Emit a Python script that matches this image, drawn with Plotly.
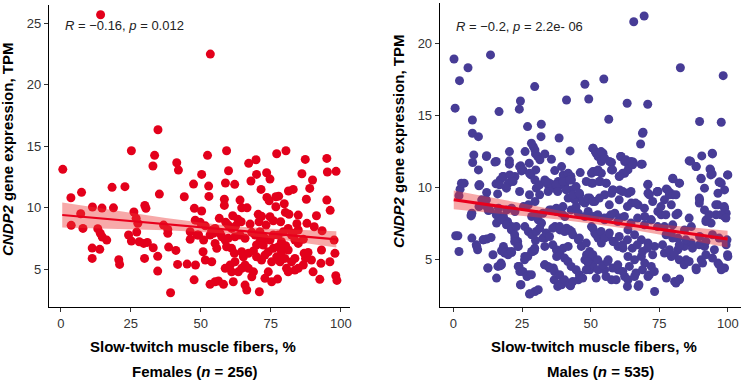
import plotly.graph_objects as go

# ---------------- data ----------------
fem_x = [14.2, 53.4, 34.7, 25.2, 33.5, 32.9, 41.4, 42.0, 0.7, 47.4, 18.3, 22.9, 7.4, 3.6, 35.2, 44.1, 30.0, 30.4,
         11.3, 14.7, 18.8, 47.7, 7.1, 26.1, 26.9, 27.5, 48.0, 3.7, 7.9, 13.2, 36.7, 38.2, 38.2, 14.1, 14.8, 16.4,
         24.2, 27.1, 25.2, 28.0, 30.9, 29.6, 46.2, 46.2, 48.7, 33.0, 38.5, 41.1, 11.2, 13.9, 11.2, 20.7, 21.0, 29.9,
         34.6, 34.6, 41.7, 45.1, 48.1, 47.6, 39.2, 50.3, 52.4, 52.8, 52.9, 58.4, 58.8, 59.2, 59.9, 62.1, 64.0, 67.1,
         67.9, 69.7, 69.9, 71.5, 73.5, 73.6, 74.7, 76.8, 77.8, 77.1, 80.4, 81.3, 83.0, 86.1, 87.3, 87.7, 88.9, 89.9,
         95.0, 95.2, 98.3, 95.0, 58.4, 74.4, 76.8, 79.8, 96.2, 50.3, 56.6, 64.6, 66.5, 61.4, 63.2, 70.5, 71.7, 74.7,
         80.2, 81.5, 84.8, 84.3, 87.9, 91.3, 90.5, 93.3, 49.8, 51.6, 53.9, 58.9, 59.8, 61.0, 62.4, 64.4, 67.6, 68.2,
         70.8, 73.3, 75.9, 78.5, 83.0, 86.6, 97.6, 97.9, 96.1, 98.2, 98.6, 92.5, 92.9, 89.5, 87.4, 86.6, 84.8, 83.6,
         90.1, 86.9, 88.3, 93.1, 50.8, 51.6, 53.9, 55.1, 55.7, 58.7, 59.8, 59.2, 61.0, 62.0, 64.6, 65.2, 67.0, 68.8,
         69.9, 71.1, 72.3, 69.9, 71.7, 72.9, 74.1, 75.9, 77.7, 78.8, 80.3, 77.1, 78.3, 80.0, 80.6, 81.2, 75.3, 74.1,
         72.9, 75.3, 77.4, 70.9, 65.8, 66.4, 68.2, 53.3, 55.1, 56.3, 58.1, 61.6, 58.7, 60.5, 62.2, 63.4, 64.6, 65.8,
         61.0, 67.0, 68.8, 49.2, 51.0, 53.3, 55.1, 54.5, 56.9, 57.5, 64.0, 65.8, 72.9, 74.7, 75.9, 77.7, 79.5, 81.2,
         82.4, 84.8, 71.1, 69.4, 71.7, 62.2, 82.4, 83.6, 78.8, 81.2, 84.8, 83.6]
fem_y = [25.7, 22.5, 16.35, 14.64, 14.27, 13.4, 13.67, 13.07, 13.13, 11.93, 11.67, 11.72, 11.26, 10.82, 11.12, 10.9,
         10.2, 9.96, 10.07, 9.98, 10.0, 9.96, 9.52, 9.66, 9.15, 8.74, 9.0, 8.58, 8.33, 8.3, 8.6, 8.25, 7.93, 7.93,
         7.63, 7.38, 7.79, 8.03, 7.3, 7.24, 7.19, 7.11, 8.06, 7.44, 7.79, 6.76, 6.81, 6.54, 6.73, 6.63, 5.89, 5.78,
         5.4, 5.89, 6.06, 4.86, 5.4, 5.43, 5.35, 4.15, 3.1, 12.72, 14.27, 11.77, 10.93, 10.7, 12.02, 14.64, 13.02,
         11.91, 10.63, 13.62, 12.18, 13.91, 12.72, 11.5, 12.85, 10.85, 12.34, 10.9, 10.95, 14.4, 14.64, 11.37, 11.5,
         12.77, 13.94, 10.7, 11.58, 12.26, 14.02, 12.91, 12.97, 10.63, 10.2, 10.58, 10.09, 10.33, 9.8, 9.74, 9.15,
         10.0, 10.0, 9.36, 9.07, 9.47, 9.31, 9.28, 9.63, 9.47, 9.41, 8.71, 8.74, 9.36, 8.46, 8.14, 8.82, 8.54, 8.17,
         8.82, 8.6, 8.33, 8.52, 8.87, 8.68, 8.01, 8.87, 8.6, 8.95, 8.87, 7.93, 7.44, 7.38, 6.3, 5.62, 4.48, 4.1, 4.19,
         5.49, 5.76, 5.89, 5.35, 5.08, 4.94, 4.8, 6.3, 6.38, 6.57, 6.43, 5.76, 5.62, 7.11, 6.71, 7.38, 7.52, 6.84,
         6.71, 6.3, 6.43, 6.02, 6.3, 6.49, 6.98, 7.24, 6.98, 6.02, 5.76, 6.16, 6.43, 6.71, 6.84, 7.24, 6.92, 6.02,
         5.62, 5.89, 5.08, 4.8, 5.62, 4.8, 4.27, 3.99, 4.21, 3.18, 3.72, 3.32, 4.4, 3.78, 3.99, 4.05, 3.78, 3.99,
         5.08, 5.35, 5.62, 4.8, 5.08, 5.35, 4.8, 5.08, 4.8, 7.79, 7.38, 7.79, 8.33, 7.93, 7.93, 7.65, 7.79, 7.52,
         7.52, 7.38, 7.79, 7.79, 8.06, 8.33, 7.79, 8.2, 8.06, 7.79, 7.65, 7.65, 5.62, 5.89, 6.43, 6.57, 7.11, 7.38]

male_x = [0.2, 0.6, 2.2, 5.3, 13.5, 6.9, 6.9, 9.1, 7.4, 7.0, 9.1, 12.1, 15.1, 16.6, 9.3, 12.1, 3.9, 2.4, 15.5, 17.0,
          18.2, 20.4, 20.4, 20.4, 22.4, 20.0, 24.0, 24.4, 24.5, 24.8, 26.1, 27.0, 27.6, 28.2, 29.1, 29.7, 29.9, 30.7,
          29.6, 32.0, 31.9, 31.5, 33.3, 30.0, 35.7, 36.9, 29.7, 33.3, 34.5, 36.4, 38.2, 38.5, 39.4, 40.0, 41.8, 42.8,
          43.0, 42.5, 41.2, 46.2, 47.9, 49.3, 50.9, 51.7, 52.7, 53.9, 50.3, 51.5, 52.7, 53.9, 50.3, 53.3, 54.8, 56.6,
          54.5, 55.1, 57.6, 57.6, 55.7, 58.2, 60.9, 62.4, 63.9, 64.8, 60.6, 62.4, 63.6, 63.3, 65.7, 69.5, 69.1, 70.8,
          68.2, 68.8, 65.5, 70.9, 74.2, 77.6, 78.8, 80.0, 80.0, 82.4, 82.7, 86.4, 88.5, 90.5, 90.3, 89.7, 93.7, 94.3,
          94.3, 97.1, 97.6, 98.3, 100.0,
          2.0, 1.6, 2.0, 6.7, 6.4, 6.7, 8.5, 8.8, 9.3, 9.3, 10.9, 12.1, 12.5, 10.3, 12.1, 12.7, 15.7, 15.7, 16.1, 16.4,
          16.1, 17.0, 17.3, 18.2, 19.7, 21.2, 18.2, 19.7, 21.2, 19.4, 21.2, 22.4, 22.4, 23.4, 23.6, 23.6, 24.2, 24.6,
          26.0, 27.3, 27.9, 29.7, 30.9, 26.0, 27.3, 28.5, 25.5, 27.3, 29.7, 28.5, 29.5, 29.9, 28.5, 30.9, 32.1, 33.3,
          33.3, 33.3, 34.5, 36.4, 36.7, 38.0, 39.4, 37.6, 38.8, 40.0, 41.8, 42.7, 45.5, 35.7, 37.6, 39.4, 40.6, 37.0,
          38.8, 41.2, 43.0, 34.5, 36.4, 38.2, 40.6, 43.0, 41.8, 44.2, 46.0, 47.9, 49.7, 51.5, 45.5, 47.9, 49.1, 50.9,
          45.5, 46.6, 48.5, 49.1, 49.7, 50.3, 51.5, 52.7, 53.9, 47.9, 50.3, 50.9, 52.7, 55.1, 56.4, 57.6, 56.4, 58.2,
          60.0, 61.8, 55.1, 57.0, 58.8, 60.6, 55.1, 57.6, 60.6, 63.6, 64.8, 67.3, 60.0, 62.4, 63.6, 66.0, 67.3, 70.9,
          73.3, 63.6, 66.0, 68.5, 69.7, 72.1, 63.6, 66.0, 68.5, 70.9, 73.3, 69.7, 72.1, 74.5, 75.7, 70.9, 74.5, 76.9,
          79.4, 81.8, 76.9, 79.4, 81.8, 84.2, 86.7, 76.9, 79.4, 81.8, 84.2, 86.7, 77.6, 80.6, 82.4, 84.8, 88.5, 90.3,
          91.5, 89.7, 92.1, 91.5, 89.7, 93.9, 95.7, 96.4, 98.8, 95.1, 96.4, 97.6, 98.8, 100.0, 99.4, 99.7, 98.8, 99.4,
          96.4, 98.8, 91.5, 97.6,
          0.8, 6.5, 8.3, 10.8, 13.7, 12.6, 16.2, 17.5, 14.4, 17.5, 18.7, 19.9, 21.1, 12.0, 13.2, 15.6, 17.5, 19.3,
          21.1, 22.9, 22.3, 22.3, 23.5, 23.9, 25.3, 26.8, 28.4, 24.4, 27.7, 25.9, 27.1, 28.9, 29.6, 28.9, 30.2, 31.4,
          32.6, 33.8, 35.0, 33.2, 35.0, 36.8, 38.7, 39.3, 40.5, 42.3, 43.5, 36.2, 37.5, 38.7, 40.5, 41.7, 42.9, 44.7,
          45.9, 47.1, 48.4, 48.9, 36.2, 38.7, 40.5, 42.3, 43.5, 45.9, 48.4, 49.6, 30.2, 32.6, 35.0, 37.5, 39.9, 42.9,
          44.7, 47.1, 48.9,
          50.8, 52.0, 53.8, 55.0, 56.8, 58.6, 60.4, 61.6, 63.4, 65.2, 67.0, 68.9, 70.7, 72.6, 50.8, 52.6, 54.4, 56.2,
          58.0, 59.9, 61.7, 64.1, 66.5, 68.9, 71.4, 73.2, 52.0, 55.6, 59.3, 63.4, 67.6, 81.1, 82.3, 52.6, 55.0, 57.4,
          59.9, 62.3, 64.7, 67.1, 69.6, 72.0, 74.4, 50.8, 53.2, 56.8, 60.4, 63.4, 66.4, 69.6, 72.6, 75.6, 77.4, 79.9,
          76.2, 78.7, 80.5, 82.3, 84.1, 85.9, 88.4, 90.8, 92.0, 94.4, 96.8, 98.0, 77.5, 79.9, 82.3, 84.7, 87.1, 89.6,
          92.0, 94.4, 96.8, 99.3, 99.9, 81.1, 85.9, 89.6, 92.0, 93.2, 95.6, 97.5, 99.3, 98.7,
          35.0, 37.4, 39.9, 42.3, 44.7, 48.4, 38.0, 41.1, 43.5, 45.9, 28.4, 18.0, 20.5, 21.7, 24.1, 25.3, 27.7, 30.2,
          31.4, 33.8, 12.0, 15.6, 16.8, 19.3, 24.1, 27.7, 31.4, 2.9, 9.6,
          50.8, 52.0, 53.8, 56.9, 58.0, 61.1, 62.9, 64.7, 65.3, 61.7, 60.4, 50.8, 52.6, 50.8, 53.2, 55.6, 58.0, 61.7,
          64.7, 68.4, 70.8, 74.4, 71.4, 78.0, 79.9, 82.3, 78.7, 81.1, 68.9, 85.9, 88.4, 93.5, 94.4, 93.8, 96.8, 99.9,
          90.2, 89.6]
male_y = [18.91, 15.49, 17.4, 18.3, 19.19, 14.67, 13.75, 13.51, 12.24, 11.71, 11.2, 12.19, 11.74, 15.25, 10.16, 9.63,
          10.28, 9.86, 10.23, 10.5, 10.74, 12.47, 11.83, 11.6, 10.74, 10.28, 15.42, 15.99, 11.48, 11.13, 12.47, 14.21,
          11.67, 10.85, 12.82, 12.59, 12.31, 12.13, 16.99, 14.37, 13.51, 11.9, 12.31, 11.2, 11.94, 11.15, 10.5, 10.5,
          10.16, 10.16, 10.39, 13.42, 11.43, 10.85, 10.97, 10.74, 10.5, 12.52, 16.06, 11.01, 17.15, 16.13, 12.71,
          12.47, 12.13, 11.78, 10.97, 11.08, 11.2, 10.97, 10.28, 10.39, 17.52, 14.72, 12.36, 12.01, 11.71, 11.2,
          10.28, 9.81, 12.13, 11.78, 11.48, 11.67, 10.78, 10.97, 11.2, 15.83, 21.5, 21.9, 13.82, 15.76, 13.0, 11.6,
          11.74, 10.21, 9.67, 9.88, 9.63, 9.47, 10.58, 10.28, 18.3, 11.8, 11.43, 12.17, 10.58, 14.56, 11.2, 10.92,
          12.36, 10.35, 14.51, 17.75, 10.85,
          9.4, 6.62, 5.53, 8.19, 8.0, 6.46, 5.88, 5.65, 8.65, 10.09, 6.34, 6.39, 4.38, 9.12, 8.65, 8.38, 3.68, 7.5,
          8.19, 8.54, 9.53, 4.53, 4.72, 5.88, 5.53, 5.46, 7.96, 7.61, 7.26, 8.42, 8.54, 8.31, 6.46, 6.22, 5.88, 4.49,
          4.14, 3.22, 5.18, 3.91, 2.59, 2.75, 2.87, 7.26, 6.92, 6.69, 8.65, 8.77, 9.0, 5.53, 5.6, 6.29, 7.96, 7.73,
          7.5, 6.46, 5.88, 4.6, 4.49, 4.38, 3.56, 3.1, 3.22, 5.18, 5.42, 5.76, 5.88, 3.15, 3.56, 8.42, 8.31, 8.19,
          7.96, 7.26, 7.03, 7.15, 6.92, 9.7, 9.93, 10.04, 10.16, 9.81, 9.24, 9.12, 9.47, 8.89, 9.24, 9.0, 8.19, 7.96,
          8.31, 7.96, 6.34, 5.88, 5.3, 4.72, 4.26, 7.26, 6.81, 6.46, 6.11, 4.95, 5.07, 4.6, 4.26, 4.26, 4.95, 3.56,
          6.57, 6.22, 5.88, 5.76, 7.73, 7.96, 8.19, 7.85, 9.47, 9.58, 9.81, 9.58, 8.89, 8.77, 4.26, 3.79, 3.56, 3.79,
          3.1, 3.79, 2.75, 5.18, 4.95, 5.18, 4.72, 4.49, 7.03, 6.69, 6.34, 6.11, 5.88, 7.96, 7.73, 8.31, 8.08, 9.58,
          9.7, 9.12, 8.77, 8.19, 7.26, 6.81, 6.46, 7.03, 7.26, 5.42, 5.18, 5.65, 5.88, 6.11, 3.68, 3.44, 3.61, 4.95,
          4.26, 4.95, 5.88, 6.57, 7.73, 8.42, 9.12, 7.5, 8.08, 8.77, 8.54, 5.65, 4.72, 4.26, 4.38, 5.18, 5.99, 6.34,
          7.96, 8.19, 9.58, 9.81, 9.93, 10.28,
          6.62, 8.08, 5.99, 6.34, 6.5, 4.38, 4.49, 4.6, 5.3, 5.58, 5.42, 5.3, 5.53, 9.12, 8.42, 8.08, 7.73, 7.38,
          7.03, 7.26, 6.69, 6.22, 5.88, 4.49, 4.14, 3.79, 3.91, 3.22, 2.57, 4.95, 5.18, 5.53, 5.76, 6.69, 6.92, 7.15,
          6.46, 6.81, 6.57, 4.6, 4.38, 4.14, 3.91, 3.33, 3.56, 3.22, 3.44, 5.99, 5.65, 5.3, 5.07, 4.83, 4.49, 4.26,
          3.91, 3.68, 4.26, 4.83, 7.15, 7.26, 6.92, 7.03, 6.69, 6.46, 6.11, 5.53, 8.08, 8.19, 8.42, 8.54, 8.65, 8.42,
          8.65, 9.0, 9.24,
          7.15, 6.69, 6.92, 6.46, 6.81, 6.22, 6.57, 5.99, 6.34, 5.76, 5.99, 5.53, 5.76, 5.3, 5.3, 4.95, 4.6, 4.83,
          4.38, 4.6, 4.14, 4.49, 4.03, 4.26, 3.91, 4.14, 3.68, 3.79, 3.56, 3.1, 3.22, 3.33, 3.56, 8.08, 7.85, 8.08,
          7.61, 7.96, 7.5, 7.85, 7.38, 7.73, 7.26, 9.0, 9.24, 8.77, 9.12, 8.65, 8.89, 8.54, 9.0, 8.65, 8.08, 7.38,
          5.99, 5.65, 5.3, 4.95, 4.6, 4.83, 4.38, 4.72, 5.3, 5.07, 4.6, 4.38, 6.69, 6.46, 5.99, 6.34, 5.76, 5.99,
          6.22, 6.69, 6.46, 6.22, 5.3, 8.08, 7.85, 8.89, 7.61, 8.08, 8.77, 8.08, 7.85, 8.65,
          10.28, 10.16, 10.39, 10.5, 10.04, 10.39, 9.7, 9.81, 9.47, 9.58, 13.06, 10.74, 10.85, 10.39, 11.43, 11.2,
          10.97, 9.93, 10.16, 10.39, 12.13, 11.78, 10.16, 9.93, 9.7, 9.47, 9.47, 10.28, 10.16,
          12.71, 12.36, 12.47, 11.78, 11.2, 12.13, 11.9, 11.78, 11.55, 10.97, 10.74, 11.08, 11.08, 10.28, 10.39,
          10.28, 9.81, 9.7, 9.7, 11.6, 10.16, 9.7, 9.47, 9.81, 10.62, 10.28, 9.47, 9.47, 13.75, 11.83, 11.43, 11.27,
          12.31, 10.85, 10.35, 10.85, 10.62, 9.24]

# regression line and its 95% confidence band
fem_fit_x = [0.5, 12.5, 25, 37.5, 50, 62, 75, 87.5, 98.4]
fem_fit_y = [9.42, 9.18, 8.93, 8.67, 8.42, 8.18, 7.91, 7.66, 7.44]
fem_ci_hi = [10.44, 10.02, 9.59, 9.18, 8.80, 8.51, 8.30, 8.18, 8.10]
fem_ci_lo = [8.40, 8.33, 8.26, 8.17, 8.04, 7.85, 7.53, 7.14, 6.78]

male_fit_x = [0.1, 12.5, 25, 37.5, 50, 62.5, 75, 87.5, 99.9]
male_fit_y = [9.12, 8.78, 8.44, 8.10, 7.76, 7.41, 7.07, 6.73, 6.39]
male_ci_hi = [9.77, 9.31, 8.85, 8.42, 8.03, 7.70, 7.43, 7.19, 6.97]
male_ci_lo = [8.47, 8.25, 8.02, 7.77, 7.48, 7.13, 6.71, 6.27, 5.81]

x_ticks = [0, 25, 50, 75, 100]
fem_y_ticks = [5, 10, 15, 20, 25]
male_y_ticks = [5, 10, 15, 20]

fem_stat = "<i>R</i> = \u22120.16, <i>p</i> = 0.012"
male_stat = "<i>R</i> = \u22120.2, <i>p</i> = 2.2e- 06"
x_title = "Slow-twitch muscle fibers, %"
y_title = "<i>CNDP2</i> gene expression, TPM"
fem_label = "Females (<i>n</i> = 256)"
male_label = "Males (<i>n</i> = 535)"

# ---------------- styling ----------------
W, H = 746, 382
FONT = "Liberation Sans, Arial, Helvetica, sans-serif"
RED = "#e3001b"
BLUE = "#473c96"
LINE_RED = "#e8001c"
BAND = "rgba(235,50,50,0.42)"

fig = go.Figure()

panels = [
    (fem_x, fem_y, RED, "x", "y", 2.2, fem_fit_x, fem_fit_y, fem_ci_lo, fem_ci_hi),
    (male_x, male_y, BLUE, "x2", "y2", 3.0, male_fit_x, male_fit_y, male_ci_lo, male_ci_hi),
]
for xv, yv, col, xa, ya, lw, fx, fy, lo, hi in panels:
    fig.add_trace(go.Scatter(x=xv, y=yv, mode="markers", xaxis=xa, yaxis=ya,
                             marker=dict(size=9, color=col, line=dict(width=0)),
                             showlegend=False, hoverinfo="skip"))
    fig.add_trace(go.Scatter(x=list(fx) + list(fx[::-1]), y=list(hi) + list(lo[::-1]),
                             fill="toself", fillcolor=BAND, line=dict(width=0), mode="lines",
                             xaxis=xa, yaxis=ya, showlegend=False, hoverinfo="skip"))
    fig.add_trace(go.Scatter(x=fx, y=fy, mode="lines", line=dict(color=LINE_RED, width=lw),
                             xaxis=xa, yaxis=ya, showlegend=False, hoverinfo="skip"))


def px(v):
    return v / W


def py(v):
    return 1 - v / H


axis_common = dict(showline=True, linecolor="black", linewidth=1.2, ticks="outside", ticklen=4,
                   tickcolor="#333333", tickwidth=1, showgrid=False, zeroline=False,
                   tickfont=dict(family=FONT, size=13, color="#333333"))

fig.update_layout(
    width=W, height=H, margin=dict(l=0, r=0, t=0, b=0),
    paper_bgcolor="white", plot_bgcolor="white", showlegend=False,
    xaxis=dict(domain=[px(49), px(351)], range=[-4.27, 103.3], tickvals=x_ticks, anchor="y", **axis_common),
    yaxis=dict(domain=[py(307), py(5)], range=[1.94, 26.49], tickvals=fem_y_ticks, anchor="x", **axis_common),
    xaxis2=dict(domain=[px(441), px(743)], range=[-4.98, 104.8], tickvals=x_ticks, anchor="y2", **axis_common),
    yaxis2=dict(domain=[py(307), py(3)], range=[1.67, 22.8], tickvals=male_y_ticks, anchor="x2", **axis_common),
)

ann = []
title_font = dict(family=FONT, size=15, color="black")
for cx, text in [(194, x_title), (596, x_title)]:
    ann.append(dict(x=px(cx), y=py(346), xref="paper", yref="paper", text="<b>" + text + "</b>",
                    showarrow=False, xanchor="center", yanchor="middle", font=title_font))
for cx, text in [(196, fem_label), (602, male_label)]:
    ann.append(dict(x=px(cx), y=py(371), xref="paper", yref="paper", text="<b>" + text + "</b>",
                    showarrow=False, xanchor="center", yanchor="middle", font=title_font))
for cx, cy in [(8, 149), (400, 141)]:
    ann.append(dict(x=px(cx), y=py(cy), xref="paper", yref="paper", text="<b>" + y_title + "</b>",
                    showarrow=False, xanchor="center", yanchor="middle", textangle=-90, font=title_font))
for lx, cy, text in [(63, 25, fem_stat), (455, 27, male_stat)]:
    ann.append(dict(x=px(lx), y=py(cy), xref="paper", yref="paper", text=text,
                    showarrow=False, xanchor="left", yanchor="middle",
                    font=dict(family=FONT, size=13, color="#222222")))
fig.update_layout(annotations=ann)

fig.write_html("out.html", config={"displayModeBar": False},
               post_script="document.body.style.margin='0px';document.body.style.overflow='hidden';")
